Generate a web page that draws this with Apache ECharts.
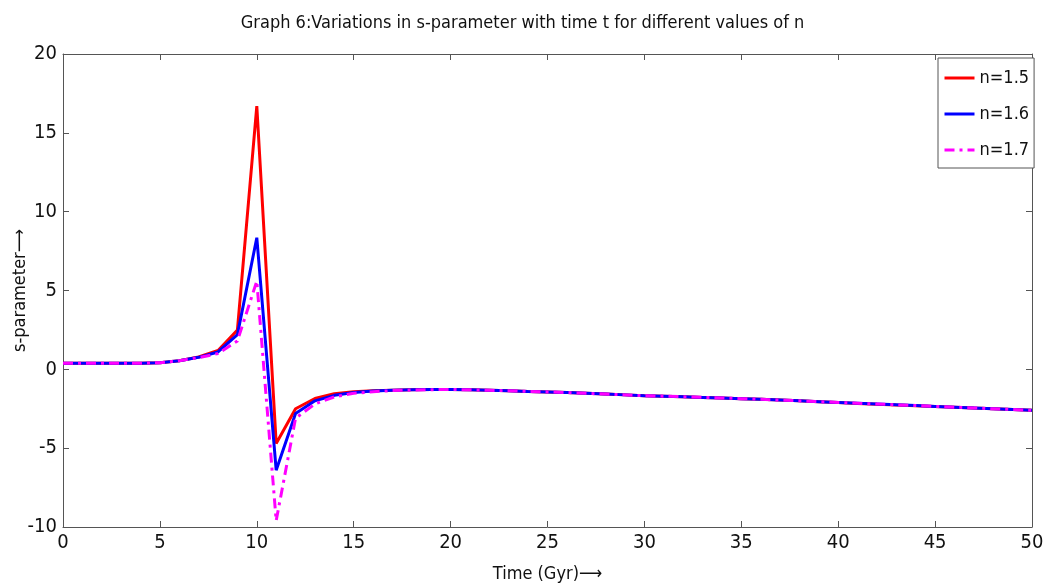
<!DOCTYPE html>
<html><head><meta charset="utf-8">
<script src="https://cdn.jsdelivr.net/npm/echarts@6/dist/echarts.min.js"></script>
<style>html,body{margin:0;padding:0;background:#fff}#c{width:1045px;height:587px}</style>
</head><body><div id="c"></div>
<script>
const t = [0,1,2,3,4,5,6,7,8,9,10,11,12,13,14,15,16,17,18,19,20,21,22,23,24,25,26,27,28,29,30,31,32,33,34,35,36,37,38,39,40,41,42,43,44,45,46,47,48,49,50];
const n15 = [0.38,0.38,0.38,0.38,0.39,0.42,0.55,0.78,1.2,2.5,16.7,-4.7,-2.5,-1.85,-1.55,-1.42,-1.36,-1.32,-1.3,-1.28,-1.28,-1.3,-1.33,-1.36,-1.4,-1.43,-1.47,-1.52,-1.57,-1.62,-1.67,-1.7,-1.74,-1.78,-1.82,-1.86,-1.9,-1.95,-2.0,-2.05,-2.1,-2.16,-2.22,-2.27,-2.31,-2.36,-2.41,-2.46,-2.5,-2.55,-2.6];
const n16 = [0.38,0.38,0.38,0.38,0.39,0.42,0.55,0.76,1.1,2.2,8.35,-6.4,-2.8,-2.0,-1.65,-1.47,-1.38,-1.33,-1.3,-1.28,-1.28,-1.3,-1.33,-1.36,-1.4,-1.43,-1.47,-1.52,-1.57,-1.62,-1.67,-1.7,-1.74,-1.78,-1.82,-1.86,-1.9,-1.95,-2.0,-2.05,-2.1,-2.15,-2.2,-2.25,-2.3,-2.35,-2.4,-2.45,-2.5,-2.55,-2.6];
const n17 = [0.38,0.38,0.38,0.38,0.39,0.42,0.55,0.74,1.0,1.8,5.6,-9.6,-3.1,-2.2,-1.75,-1.52,-1.42,-1.35,-1.31,-1.29,-1.28,-1.3,-1.33,-1.36,-1.4,-1.43,-1.47,-1.52,-1.57,-1.62,-1.67,-1.7,-1.74,-1.78,-1.82,-1.86,-1.9,-1.95,-2.0,-2.05,-2.1,-2.15,-2.2,-2.25,-2.3,-2.35,-2.4,-2.45,-2.5,-2.55,-2.6];
const names = ['n=1.5','n=1.6','n=1.7'];
const xTicks = [0,5,10,15,20,25,30,35,40,45,50];
const yTicks = [-10,-5,0,5,10,15,20];

const FONT = '"Liberation Sans Narrow","DejaVu Sans Condensed","Roboto Condensed",sans-serif';
const pair = (ys) => t.map((x,i)=>[x,ys[i]]);
const chart = echarts.init(document.getElementById('c'));
const axLine = {show:true,onZero:false,lineStyle:{color:'#555',width:1}};
const tick = {show:true,inside:true,length:6,lineStyle:{color:'#555'}};
chart.setOption({
  backgroundColor:'#fff',
  animation:false,
  title:{text:'Graph 6:Variations in s-parameter with time t for different values of n',left:'center',top:9,
    textStyle:{fontFamily:FONT,fontSize:18,fontWeight:'normal',color:'#111'}},
  grid:{left:63,right:13,top:54,bottom:60,containLabel:false,outerBoundsMode:'none'},
  legend:{data:names,orient:'vertical',left:938,top:58,padding:[11,5,9,5],itemGap:18,itemWidth:30,itemHeight:14,
    borderColor:'#555',borderWidth:1,backgroundColor:'#fff',itemStyle:{opacity:0},lineStyle:{width:3},
    textStyle:{fontFamily:FONT,fontSize:18,color:'#111'}},
  xAxis:[{type:'value',min:0,max:50,interval:5,position:'bottom',
    name:'Time (Gyr)⟶',nameLocation:'middle',nameGap:38,nameMoveOverlap:false,
    nameTextStyle:{fontFamily:FONT,fontSize:18,color:'#111'},
    axisLine:axLine,axisTick:tick,splitLine:{show:false},
    axisLabel:{fontFamily:FONT,fontSize:20,color:'#111',margin:6}},
   {type:'value',min:0,max:50,interval:5,position:'top',axisLine:axLine,axisTick:tick,axisLabel:{show:false},splitLine:{show:false}}],
  yAxis:[{type:'value',min:-10,max:20,interval:5,position:'left',
    name:'s-parameter⟶',nameLocation:'middle',nameGap:34,nameMoveOverlap:false,
    nameTextStyle:{fontFamily:FONT,fontSize:18,color:'#111'},
    axisLine:axLine,axisTick:tick,splitLine:{show:false},
    axisLabel:{fontFamily:FONT,fontSize:20,color:'#111',margin:6}},
   {type:'value',min:-10,max:20,interval:5,position:'right',axisLine:axLine,axisTick:tick,axisLabel:{show:false},splitLine:{show:false}}],
  series:[
    {name:names[0],type:'line',data:pair(n15),symbol:'none',color:'#ff0000',lineStyle:{color:'#ff0000',width:3}},
    {name:names[1],type:'line',data:pair(n16),symbol:'none',color:'#0000ff',lineStyle:{color:'#0000ff',width:3}},
    {name:names[2],type:'line',data:pair(n17),symbol:'none',color:'#ff00ff',lineStyle:{color:'#ff00ff',width:3,type:[10,5,3,5]}}
  ]
});
</script></body></html>
